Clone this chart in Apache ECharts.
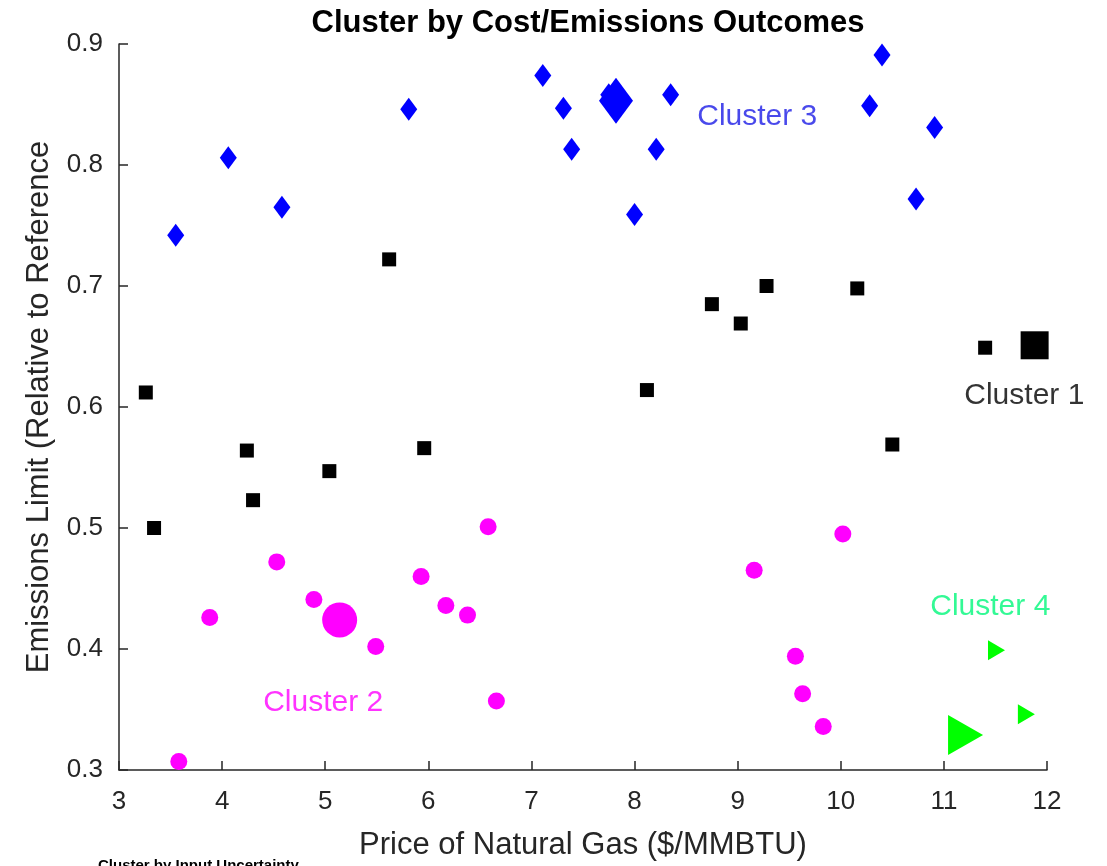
<!DOCTYPE html>
<html>
<head>
<meta charset="utf-8">
<script src="https://cdn.jsdelivr.net/npm/echarts@6/dist/echarts.min.js"></script>
<style>
  html, body { margin: 0; padding: 0; background: #fff; overflow: hidden; }
  #chart { width: 1107px; height: 866px; }
</style>
</head>
<body>
<div id="chart"></div>
<script>
// Scenario outcomes: [gas price ($/MMBTU), emissions limit relative to reference]
const cluster1Points = [
  [3.26, 0.612], [3.34, 0.500], [4.24, 0.564], [4.30, 0.523], [5.04, 0.547],
  [5.62, 0.722], [5.96, 0.566], [8.12, 0.614], [8.75, 0.685], [9.03, 0.669],
  [9.28, 0.700], [10.16, 0.698], [10.50, 0.569], [11.40, 0.649]
];
const cluster1Centroid = [[11.88, 0.651]];

const cluster2Points = [
  [3.58, 0.307], [3.88, 0.426], [4.53, 0.472], [4.89, 0.441], [5.49, 0.402],
  [5.93, 0.460], [6.17, 0.436], [6.38, 0.428], [6.58, 0.501], [6.66, 0.357],
  [9.16, 0.465], [9.56, 0.394], [9.63, 0.363], [9.83, 0.336], [10.02, 0.495]
];
const cluster2Centroid = [[5.14, 0.424]];

const cluster3Points = [
  [3.55, 0.742], [4.06, 0.806], [4.58, 0.765], [5.81, 0.846], [7.11, 0.874],
  [7.31, 0.847], [7.39, 0.813], [7.75, 0.858], [8.00, 0.759], [8.21, 0.813],
  [8.35, 0.858], [10.28, 0.849], [10.40, 0.891], [10.73, 0.772], [10.91, 0.831]
];
const cluster3Centroid = [[7.82, 0.853]];

const cluster4Points = [[11.51, 0.399], [11.80, 0.346]];
const cluster4Centroid = [[11.21, 0.329]];

// Cluster name annotations: [x, y, text]
const clusterLabels = [
  [11.78, 0.609, 'Cluster 1'],
  [4.98, 0.356, 'Cluster 2'],
  [9.19, 0.840, 'Cluster 3'],
  [11.45, 0.435, 'Cluster 4']
];
const clusterLabelColors = ['#000000', '#ff00ff', '#1c1ce6', '#00f77a'];

const xTicks = { min: 3, max: 12, interval: 1 };
const yTicks = { min: 0.3, max: 0.9, interval: 0.1 };

const FONT = '"Liberation Sans", Arial, Helvetica, sans-serif';
const AXIS_COLOR = '#262626';

const chart = echarts.init(document.getElementById('chart'), null, { renderer: 'canvas' });

function scatter(data, symbol, size, color, rotate, z) {
  return {
    type: 'scatter',
    data: data,
    symbol: symbol,
    symbolSize: size,
    symbolRotate: rotate || 0,
    itemStyle: { color: color, opacity: 1 },
    emphasis: { disabled: true },
    silent: true,
    z: z || 2
  };
}

const option = {
  animation: false,
  backgroundColor: '#ffffff',
  title: {
    text: 'Cluster by Cost/Emissions Outcomes',
    left: 583,
    textAlign: 'center',
    top: 3,
    textStyle: { fontFamily: FONT, fontSize: 31, fontWeight: 'bold', color: '#000' }
  },
  grid: { left: 119, top: 44, width: 928, height: 732, containLabel: false },
  xAxis: {
    type: 'value',
    min: xTicks.min, max: xTicks.max, interval: xTicks.interval,
    name: 'Price of Natural Gas ($/MMBTU)',
    nameLocation: 'middle',
    nameGap: 60,
    nameTextStyle: { fontFamily: FONT, fontSize: 31, color: AXIS_COLOR },
    axisLine: { lineStyle: { color: AXIS_COLOR, width: 1.5 } },
    axisTick: { inside: true, length: 9, lineStyle: { color: AXIS_COLOR, width: 1.5 } },
    axisLabel: { fontFamily: FONT, fontSize: 26, color: AXIS_COLOR, margin: 19 },
    splitLine: { show: false }
  },
  yAxis: {
    type: 'value',
    min: yTicks.min, max: yTicks.max, interval: yTicks.interval,
    name: 'Emissions Limit (Relative to Reference',
    nameLocation: 'middle',
    nameGap: 64,
    nameTextStyle: { fontFamily: FONT, fontSize: 31, color: AXIS_COLOR },
    axisLine: { lineStyle: { color: AXIS_COLOR, width: 1.5 } },
    axisTick: { inside: true, length: 9, lineStyle: { color: AXIS_COLOR, width: 1.5 } },
    axisLabel: {
      fontFamily: FONT, fontSize: 26, color: AXIS_COLOR, margin: 16,
      formatter: v => v.toFixed(1)
    },
    splitLine: { show: false }
  },
  series: [
    scatter(cluster1Points, 'rect', 14, '#000000'),
    scatter(cluster1Centroid, 'rect', 28, '#000000', 0, 3),
    scatter(cluster2Points, 'circle', 17, '#ff00ff'),
    scatter(cluster2Centroid, 'circle', 35, '#ff00ff', 0, 3),
    scatter(cluster3Points, 'diamond', [17, 23], '#0000ff'),
    scatter(cluster3Centroid, 'diamond', [34, 46], '#0000ff', 0, 3),
    scatter(cluster4Points, 'triangle', [20, 17], '#00ff00', -90),
    scatter(cluster4Centroid, 'triangle', [40, 35], '#00ff00', -90, 3),
    {
      type: 'scatter',
      data: clusterLabels.map((d, i) => ({
        value: [d[0], d[1]],
        name: d[2],
        label: { color: clusterLabelColors[i] }
      })),
      symbolSize: 0,
      silent: true,
      z: 5,
      label: {
        show: true,
        position: 'inside',
        formatter: p => p.name,
        fontFamily: FONT,
        fontSize: 30
      }
    }
  ],
  graphic: [
    {
      type: 'text',
      left: 98,
      top: 858,
      style: {
        text: 'Cluster by Input Uncertainty',
        font: 'bold 15px ' + FONT,
        fill: '#000'
      }
    }
  ]
};

chart.setOption(option);
</script>
</body>
</html>
